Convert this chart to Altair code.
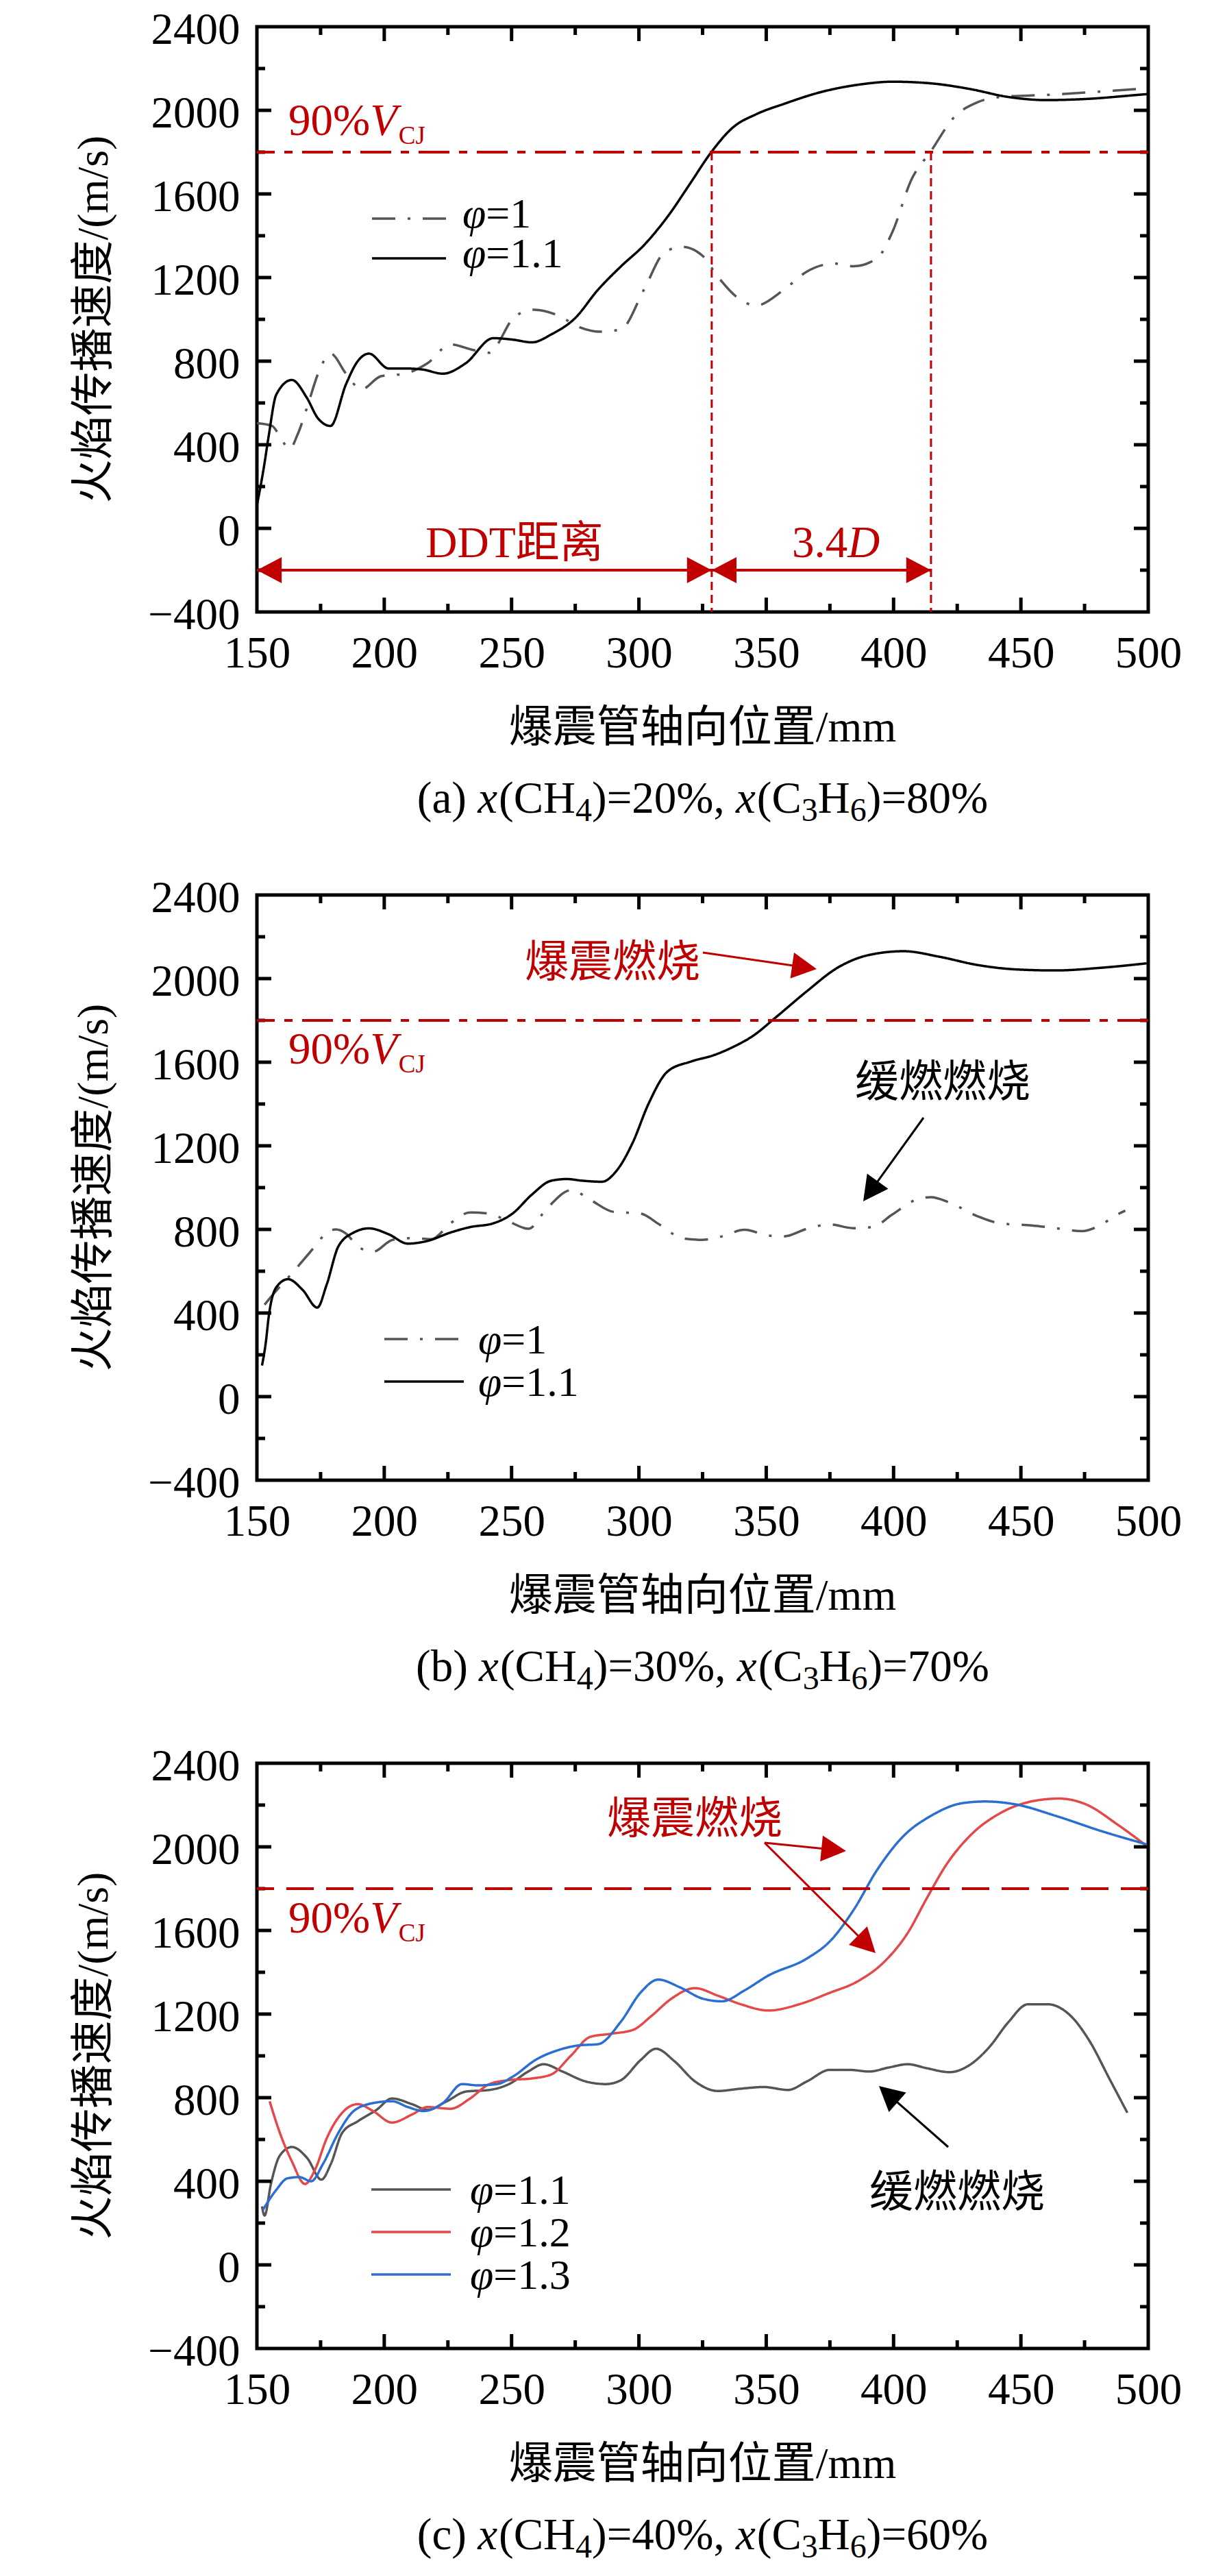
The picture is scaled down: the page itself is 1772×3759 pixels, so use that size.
import math
import altair as alt
import pandas as pd

# ---------------- data ----------------
A_X_P10 = [150, 156, 159, 162.8, 166, 170, 174, 179, 185, 191, 198.7, 208, 217, 226, 235, 241, 251.5, 259,
           268.7, 276, 285, 293, 302, 309.8, 316.8, 325, 331, 338.7, 346, 357, 366, 376.7, 384.3, 393.5,
           399.5, 407, 414.7, 423.9, 433, 442, 460, 478, 496, 500]
A_V_P10 = [503, 490, 440, 380, 450, 590, 740, 836, 740, 665, 728, 740, 790, 880, 853, 840, 1016, 1046,
           1016, 966, 941, 953, 1142, 1317, 1347, 1304, 1204, 1104, 1066, 1142, 1229, 1267, 1254, 1292,
           1417, 1668, 1805, 1969, 2039, 2064, 2074, 2087, 2102, 2105]
A_X_P11 = [150, 152.7, 154.6, 157.6, 163.7, 169.5, 174, 178.9, 185, 189.6, 194, 201.7, 208, 215, 223, 232,
           242.8, 250.4, 258, 265.6, 274.8, 283.9, 293, 302, 311.3, 320.4, 328, 337, 346, 357, 372, 387,
           399.5, 414.7, 430, 445, 460, 475, 496, 500]
A_V_P11 = [110, 290, 440, 640, 710, 627, 526, 490, 690, 800, 836, 765, 765, 760, 740, 790,
           910, 903, 890, 928, 1004, 1141, 1254, 1355, 1492, 1655, 1793, 1919, 1981, 2031, 2089, 2124,
           2137, 2129, 2102, 2064, 2049, 2054, 2074, 2078]

B_X_P10 = [153, 156, 163.7, 172.8, 177.4, 181, 185, 189.6, 195.6, 203.3, 211, 218.5, 226, 233.7, 241, 249,
           256.6, 264, 273.4, 281, 290, 300.6, 308, 317, 324.8, 332.4, 341.5, 350.6, 356.8, 366, 375, 384,
           391.6, 399.5, 408.6, 414.7, 422, 433, 442, 454.3, 463.5, 474, 481.7, 487.8, 491]
B_V_P10 = [440, 484, 589, 719, 785, 800, 780, 719, 693, 750, 758, 753, 829, 881, 876, 837,
           803, 902, 988, 941, 884, 876, 824, 758, 750, 766, 798, 771, 766, 803, 824, 806,
           811, 871, 941, 954, 928, 863, 829, 819, 806, 792, 824, 871, 890]
B_X_P11 = [152, 153.5, 154.6, 157.6, 162.2, 168, 173.7, 177.4, 182, 188, 194, 201.7, 209.3, 217, 226, 233.7,
           242.8, 250.4, 258, 265.6, 271.7, 277.8, 285.4, 291.5, 297.6, 303.7, 311.3, 320.4, 329.5, 337,
           344.8, 354, 366, 378, 390, 404, 417.8, 433, 448, 463.5, 481.7, 499.4]
B_V_P11 = [149, 260, 379, 523, 562, 510, 426, 536, 719, 785, 805, 777, 732, 745, 785, 811,
           829, 876, 967, 1033, 1041, 1033, 1028, 1085, 1216, 1399, 1556, 1603, 1634, 1673,
           1726, 1817, 1940, 2052, 2112, 2131, 2105, 2065, 2044, 2039, 2052, 2073]

C_X_P11 = [152, 153, 155.5, 159, 163.7, 169.8, 175.3, 179, 183.5, 189.6, 197, 203, 210.9, 217, 224.6, 232,
           241.3, 249, 256.5, 262.6, 270, 279, 287, 293, 300.6, 306.7, 314, 322, 331, 340, 349, 358.5,
           366, 375, 382.8, 390.4, 398, 405.6, 413, 422, 429.7, 437.6, 445, 452.8, 460.4, 469.5, 477,
           484.7, 491.8]
C_V_P11 = [280, 236, 387, 523, 564, 510, 408, 482, 632, 687, 742, 796, 769, 742, 783, 829,
           837, 865, 925, 960, 925, 878, 865, 884, 979, 1034, 974, 878, 832, 843, 851, 837,
           878, 933, 933, 925, 944, 960, 941, 922, 955, 1042, 1160, 1247, 1247, 1192, 1070,
           892, 728]
C_X_P12 = [155, 159, 163.7, 168.9, 172.8, 177.4, 183.5, 189.6, 195.6, 203, 211, 217, 226, 233.7, 241.3,
           249, 258, 265.6, 273.3, 280.9, 288.5, 297.6, 305, 312.8, 322, 331, 340, 350.9, 363, 375,
           385.8, 396.5, 405.6, 413, 420.8, 430, 442, 454, 465, 475.6, 487.8, 499.4]
C_V_P12 = [783, 632, 496, 387, 455, 605, 728, 769, 736, 681, 720, 755, 747, 796, 865,
           884, 892, 911, 1001, 1091, 1105, 1124, 1192, 1274, 1324, 1288, 1247, 1217, 1247, 1302,
           1356, 1452, 1589, 1753, 1916, 2053, 2162, 2217, 2231, 2203, 2108, 2004]
C_X_P13 = [152.4, 157.6, 162, 166.7, 171.3, 175.9, 182, 188, 195.6, 203, 209.3, 215.4, 223, 230.6, 236.7,
           244.3, 250.4, 259.6, 268.7, 276.3, 284, 293, 300.6, 307.6, 315.9, 325, 332.6, 341.7, 350.8,
           366, 375, 384.3, 393.5, 404, 414.8, 427, 436, 448, 463.5, 481.7, 499.4]
C_V_P13 = [264, 359, 414, 420, 400, 482, 632, 736, 774, 783, 755, 736, 774, 865, 859,
           865, 900, 982, 1029, 1050, 1056, 1165, 1302, 1365, 1329, 1274, 1261, 1315, 1384,
           1466, 1548, 1698, 1889, 2053, 2149, 2209, 2217, 2203, 2149, 2075, 2012]

XTICKS = [150, 200, 250, 300, 350, 400, 450, 500]
X_MINOR = [175, 225, 275, 325, 375, 425, 475]
YTICKS = [-400, 0, 400, 800, 1200, 1600, 2000, 2400]
Y_MINOR = [-200, 200, 600, 1000, 1400, 1800, 2200]
VCJ90 = 1800          # 90% V_CJ
A_DDT = 328.6         # DDT position, panel (a)
A_DET = 414.7         # DDT + 3.4D, panel (a)
A_ARROW_Y = -200

SERIES_AB = ["φ=1", "φ=1.1"]
SERIES_C = ["φ=1.1", "φ=1.2", "φ=1.3"]
CAPTIONS = [("a", "20%", "80%"), ("b", "30%", "70%"), ("c", "40%", "60%")]

# ---------------- style ----------------
W, H = 1301, 854
X0, X1, Y0, Y1 = 150, 500, -400, 2400
SERIF = "Liberation Serif"
MIX = "Liberation Serif, Noto Sans CJK SC"
RED = "#C00000"
FS = 65
LEG_FS = 62
CJK_FS = 64
GRAY = "#555555"
XS = alt.Scale(domain=[X0, X1], nice=False, zero=False)
YS = alt.Scale(domain=[Y0, Y1], nice=False, zero=False)
ONE = pd.DataFrame({"_": [0]})
RIGHT_HEAD = "M 0 0 L -1.9 -1 L -1.9 1 Z"
LEFT_HEAD = "M 0 0 L 1.9 -1 L 1.9 1 Z"
HEAD_SIZE = 1444
MAJOR_LEN, MINOR_LEN = 21, 12   # tick lengths in pixels (inward, from the frame line)
TICK_W = 5

ROMAN_W = {"(": 333, ")": 333, "a": 444, "b": 500, "c": 444, " ": 250, "C": 667, "H": 722,
           "=": 564, "%": 833, ",": 250, ".": 250, "D": 722, "T": 611, "V": 722, "J": 389}
for _d in "0123456789":
    ROMAN_W[_d] = 500
ITALIC_W = {"x": 444, "V": 611, "D": 722, "φ": 520}


def text_width(s, italic, size):
    tbl = ITALIC_W if italic else ROMAN_W
    return sum(tbl.get(ch, 1000) for ch in s) * size / 1000.0


def axis_x():
    return alt.Axis(values=XTICKS, format="d", labelFont=SERIF, labelFontSize=FS, labelColor="black",
                    labelPadding=29, ticks=False, tickSize=0, domain=False, grid=False,
                    title=None, labelFlush=False, labelOverlap=False)


def axis_y():
    return alt.Axis(values=YTICKS, format="d", labelFont=SERIF, labelFontSize=FS, labelColor="black",
                    labelPadding=25, labelOffset=4, ticks=False, tickSize=0, domain=False, grid=False,
                    title=None, labelFlush=False, labelOverlap=False)


def XF(field):
    return alt.X(field, type="quantitative", scale=XS, axis=axis_x())


def YF(field):
    return alt.Y(field, type="quantitative", scale=YS, axis=axis_y())


def XD(v):
    return alt.XDatum(v, scale=XS, axis=axis_x())


def YD(v):
    return alt.YDatum(v, scale=YS, axis=axis_y())


def txt(s, x, y, size=FS, color="black", italic=False, align="left",
        baseline="alphabetic", font=SERIF, angle=None):
    kw = dict(text=s, fontSize=size, color=color, align=align, baseline=baseline, font=font)
    if italic:
        kw["fontStyle"] = "italic"
    if angle is not None:
        kw["angle"] = angle
    return alt.Chart(ONE).mark_text(**kw).encode(x=alt.value(x), y=alt.value(y))


def rich(segs, x, y, size=FS, sub_size=48, sub_shift=12, color="black",
         anchor="left", baseline="alphabetic"):
    items = []
    for t, k in segs:
        if k == "sub":
            items.append((t, False, sub_size, sub_shift, text_width(t, False, sub_size)))
        else:
            it = (k == "i")
            w = text_width(t, it, size) + (2 if it else 0)
            items.append((t, it, size, 0, w))
    total = sum(i[4] for i in items)
    cur = x - total / 2 if anchor == "center" else x
    out = []
    for t, it, sz, dy, w in items:
        out.append(txt(t, cur, y + dy, sz, color, it, "left", baseline))
        cur += w
    return out


def curves(xs_list, vs_list, names, colors, dashes):
    rows = []
    for xs, vs, n in zip(xs_list, vs_list, names):
        rows += [{"x": a, "v": b, "s": n} for a, b in zip(xs, vs)]
    df = pd.DataFrame(rows)
    return alt.Chart(df).mark_line(strokeWidth=3.5, interpolate="monotone").encode(
        x=XF("x"),
        y=YF("v"),
        color=alt.Color("s:N", scale=alt.Scale(domain=names, range=colors), legend=None),
        strokeDash=alt.StrokeDash("s:N", scale=alt.Scale(domain=names, range=dashes), legend=None),
    )


def px_x(v):
    return (v - X0) / (X1 - X0) * W


def px_y(v):
    return (Y1 - v) / (Y1 - Y0) * H


def frame_ticks():
    """Inward ticks on all four sides (axis decoration, same linear mapping as the scales)."""
    out = []
    for vals, ln in ((XTICKS[1:-1], MAJOR_LEN), (X_MINOR, MINOR_LEN)):
        for t in vals:
            xp = round(px_x(t), 2)
            out.append(alt.Chart(ONE).mark_rule(color="black", strokeWidth=TICK_W).encode(
                x=alt.value(xp), x2=alt.value(xp), y=alt.value(H), y2=alt.value(H - ln)))
            out.append(alt.Chart(ONE).mark_rule(color="black", strokeWidth=TICK_W).encode(
                x=alt.value(xp), x2=alt.value(xp), y=alt.value(0), y2=alt.value(ln)))
    for vals, ln in ((YTICKS[1:-1], MAJOR_LEN), (Y_MINOR, MINOR_LEN)):
        for t in vals:
            yp = round(px_y(t), 2)
            out.append(alt.Chart(ONE).mark_rule(color="black", strokeWidth=TICK_W).encode(
                x=alt.value(0), x2=alt.value(ln), y=alt.value(yp), y2=alt.value(yp)))
            out.append(alt.Chart(ONE).mark_rule(color="black", strokeWidth=TICK_W).encode(
                x=alt.value(W), x2=alt.value(W - ln), y=alt.value(yp), y2=alt.value(yp)))
    return out


def hline(dash):
    return alt.Chart(ONE).mark_rule(color=RED, strokeWidth=4, strokeDash=dash).encode(y=YD(VCJ90))


def vcj_label(y):
    return rich([("90%", "n"), ("V", "i"), ("CJ", "sub")], 46, y, size=FS,
                sub_size=37, sub_shift=13, color=RED)


def arrow_px(x0, y0, x1, y1, color):
    ang = math.degrees(math.atan2(y1 - y0, x1 - x0)) % 360
    L = math.hypot(x1 - x0, y1 - y0)
    ex = x1 - (x1 - x0) / L * 28
    ey = y1 - (y1 - y0) / L * 28
    line = alt.Chart(ONE).mark_rule(color=color, strokeWidth=3).encode(
        x=alt.value(x0), y=alt.value(y0), x2=alt.value(ex), y2=alt.value(ey))
    head = alt.Chart(ONE).mark_point(shape=RIGHT_HEAD, size=HEAD_SIZE, filled=True, color=color,
                                     opacity=1, strokeWidth=0, angle=round(ang, 2)).encode(
        x=alt.value(x1), y=alt.value(y1))
    return [line, head]


def head_datum(xv, yv, shape):
    return alt.Chart(ONE).mark_point(shape=shape, size=HEAD_SIZE, filled=True, color=RED,
                                     opacity=1, strokeWidth=0).encode(x=XD(xv), y=YD(yv))


def legend(x1, x2, ys, labels, colors, dashes, tx, text_dy):
    out = []
    for y, lab, c, d in zip(ys, labels, colors, dashes):
        out.append(alt.Chart(ONE).mark_rule(color=c, strokeWidth=3.5, strokeDash=d).encode(
            x=alt.value(x1), x2=alt.value(x2), y=alt.value(y)))
        out += rich([("φ", "i"), (lab.replace("φ", ""), "n")], tx, y + text_dy, size=LEG_FS,
                    baseline="middle")
    return out


def titles_and_caption(cap):
    letter, p1, p2 = cap
    out = [
        txt("爆震管轴向位置/mm", W / 2, H + 170, size=CJK_FS, font=MIX, align="center", baseline="middle"),
        txt("火焰传播速度/(m/s)", -237, H / 2, size=CJK_FS, font=MIX, align="center",
            baseline="middle", angle=270),
    ]
    segs = [("(%s) " % letter, "n"), ("x", "i"), ("(CH", "n"), ("4", "sub"), (")=%s, " % p1, "n"),
            ("x", "i"), ("(C", "n"), ("3", "sub"), ("H", "n"), ("6", "sub"), (")=%s" % p2, "n")]
    out += rich(segs, W / 2, H + 293, size=FS, sub_size=48, sub_shift=12, anchor="center")
    return out


DASH_PHI1 = [34, 18, 4, 18]     # dash-dot, as in the legend
DASH_DOT = [45, 14, 12, 14]

# ---------------- panel (a) ----------------
la = [curves([A_X_P10, A_X_P11], [A_V_P10, A_V_P11], SERIES_AB, [GRAY, "black"], [DASH_PHI1, [1, 0]])]
la += frame_ticks()
la.append(hline(DASH_DOT))
for xv in (A_DDT, A_DET):
    la.append(alt.Chart(ONE).mark_rule(color=RED, strokeWidth=3, strokeDash=[12, 7]).encode(
        x=XD(xv), y=YD(VCJ90), y2=alt.Y2Datum(Y0)))
la.append(alt.Chart(ONE).mark_rule(color=RED, strokeWidth=4).encode(
    x=XD(X0), x2=alt.X2Datum(A_DDT), y=YD(A_ARROW_Y)))
la.append(alt.Chart(ONE).mark_rule(color=RED, strokeWidth=4).encode(
    x=XD(A_DDT), x2=alt.X2Datum(A_DET), y=YD(A_ARROW_Y)))
la += [head_datum(X0, A_ARROW_Y, LEFT_HEAD), head_datum(A_DDT, A_ARROW_Y, RIGHT_HEAD),
       head_datum(A_DDT, A_ARROW_Y, LEFT_HEAD), head_datum(A_DET, A_ARROW_Y, RIGHT_HEAD)]
la += vcj_label(158)
la.append(txt("DDT距离", 376, 774, size=CJK_FS, color=RED, font=MIX, align="center"))
la += rich([("3.4", "n"), ("D", "i")], 846, 774, size=FS, color=RED, anchor="center")
la += legend(168, 276, [280, 338], SERIES_AB, [GRAY, "black"], [DASH_PHI1, [1, 0]], 300, -6)
la += titles_and_caption(CAPTIONS[0])
# invisible anchor fixing the left edge of the page layout
la.append(alt.Chart(ONE).mark_point(size=1, opacity=0, filled=True).encode(
    x=alt.value(-364), y=alt.value(0)))
pa = alt.layer(*la).properties(width=W, height=H)

# ---------------- panel (b) ----------------
lb = [curves([B_X_P10, B_X_P11], [B_V_P10, B_V_P11], SERIES_AB, [GRAY, "black"], [DASH_PHI1, [1, 0]])]
lb += frame_ticks()
lb.append(hline(DASH_DOT))
lb += vcj_label(246)
lb.append(txt("爆震燃烧", 519, 100, size=CJK_FS, color=RED, font=MIX, align="center", baseline="middle"))
lb += arrow_px(651, 84, 817, 108, RED)
lb.append(txt("缓燃燃烧", 1001, 275, size=CJK_FS, color="black", font=MIX, align="center", baseline="middle"))
lb += arrow_px(973, 325, 885, 447, "black")
lb += legend(186, 302, [648, 710], SERIES_AB, [GRAY, "black"], [DASH_PHI1, [1, 0]], 323, 2)
lb += titles_and_caption(CAPTIONS[1])
pb = alt.layer(*lb).properties(width=W, height=H)

# ---------------- panel (c) ----------------
C_COLORS = ["#555555", "#E54848", "#2A6ED2"]
lc = [curves([C_X_P11, C_X_P12, C_X_P13], [C_V_P11, C_V_P12, C_V_P13], SERIES_C, C_COLORS,
             [[1, 0], [1, 0], [1, 0]])]
lc += frame_ticks()
lc.append(hline([40, 18]))
lc += vcj_label(247)
lc.append(txt("爆震燃烧", 639, 83, size=CJK_FS, color=RED, font=MIX, align="center", baseline="middle"))
lc += arrow_px(741, 116, 860, 128, RED)
lc += arrow_px(741, 116, 903, 277, RED)
lc.append(txt("缓燃燃烧", 1022, 628, size=CJK_FS, color="black", font=MIX, align="center", baseline="middle"))
lc += arrow_px(1009, 560, 908, 471, "black")
lc += legend(167, 283, [622, 684, 746], SERIES_C, C_COLORS, [[1, 0], [1, 0], [1, 0]], 311, 2)
lc += titles_and_caption(CAPTIONS[2])
pc = alt.layer(*lc).properties(width=W, height=H)

chart = alt.vconcat(pa, pb, pc, spacing=413, bounds="flush").resolve_scale(
    color="independent", strokeDash="independent"
).properties(
    autosize=alt.AutoSizeParams(type="pad"),
    padding={"left": 0, "top": 0, "right": 5, "bottom": 5},
).configure_view(stroke="black", strokeWidth=5)

chart.save("out.html", embed_options={"renderer": "svg", "actions": False})
